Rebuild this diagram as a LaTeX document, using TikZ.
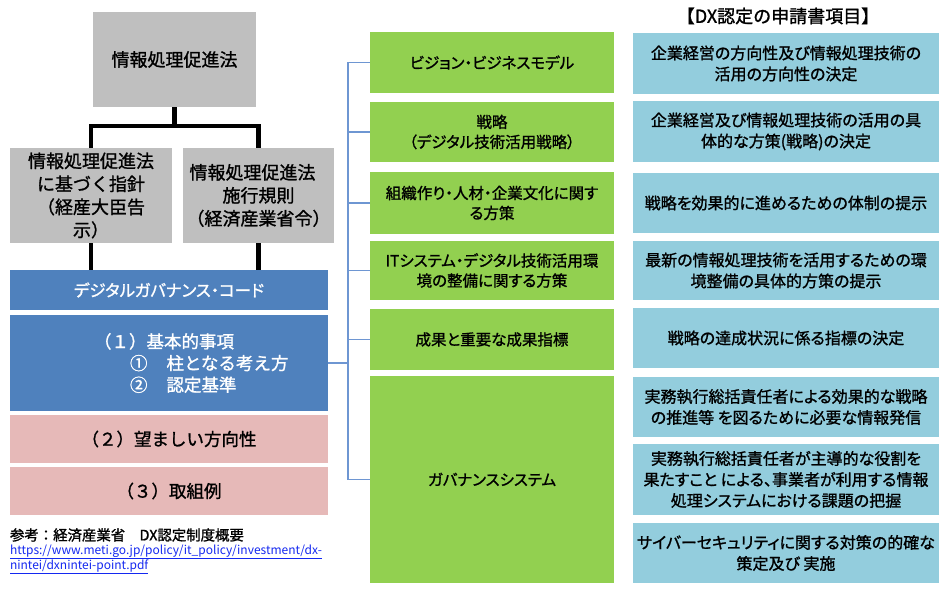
\documentclass[tikz,border=0pt]{standalone}
\usepackage{fontspec}
\setmainfont{Noto Sans CJK JP}[BoldFont={Noto Sans CJK JP}, BoldFeatures={FakeBold=1.2}]
\newfontfamily\pjp{Noto Sans CJK JP}[RawFeature=+palt, BoldFont={Noto Sans CJK JP}, BoldFeatures={FakeBold=1.2}]
\definecolor{grayc}{RGB}{191,191,191}
\definecolor{bluec}{RGB}{79,129,189}
\definecolor{pinkc}{RGB}{230,185,184}
\definecolor{greenc}{RGB}{146,208,80}
\definecolor{lbc}{RGB}{147,205,221}
\definecolor{brc}{RGB}{110,150,210}
\definecolor{linkc}{RGB}{20,40,240}
\begin{document}
\begin{tikzpicture}[x=1pt,y=-1pt,
  box/.style={rectangle, inner sep=0pt, outer sep=0pt, draw=none, align=center},
  graybox/.style={box, fill=grayc, font=\bfseries\fontsize{18}{23}\selectfont},
  bluebox/.style={box, fill=bluec, text=white, font=\bfseries\fontsize{17.5}{21.5}\selectfont},
  pinkbox/.style={box, fill=pinkc, font=\bfseries\fontsize{17.5}{21.5}\selectfont},
  greenbox/.style={box, fill=greenc, minimum width=244pt, font=\pjp\bfseries\fontsize{15.5}{20}\selectfont},
  lbbox/.style={box, fill=lbc, minimum width=306pt, font=\pjp\bfseries\fontsize{16}{21}\selectfont},
  conn/.style={line width=4.3pt, black},
  brk/.style={line width=1.3pt, brc},
  plain/.style={inner sep=0pt, outer sep=0pt, anchor=west, align=left}
]
\useasboundingbox (0,0) rectangle (940,594);
\fill[white] (0,0) rectangle (940,594);

% left column
\node[graybox, minimum width=163pt, minimum height=95pt] (top) at (174.5,59.5) {情報処理促進法};
\node[graybox, minimum width=162pt, minimum height=95pt] (L) at (91,195.5) {情報処理促進法\\に基づく指針\\（経産大臣告\\示）};
\node[graybox, minimum width=151pt, minimum height=95pt] (R) at (258.5,195.5) {情報処理促進法\hspace*{12pt}\\施行規則\hspace*{12pt}\\（経済産業省令）};
\node[bluebox, minimum width=318pt, minimum height=40pt, font=\pjp\bfseries\fontsize{16.5}{20}\selectfont] (dg) at (169,290) {デジタルガバナンス・コード};
\node[bluebox, minimum width=318pt, minimum height=96pt] (b1) at (169,363) {};
\node[plain, text=white, font=\bfseries\fontsize{17.5}{21.7}\selectfont] (b1t) at (94,363) {（１）基本的事項\\\hspace*{36pt}①\hspace{19pt}柱となる考え方\\\hspace*{36pt}②\hspace{19pt}認定基準};
\node[pinkbox, minimum width=318pt, minimum height=48pt] (p2) at (169,439) {（２）望ましい方向性};
\node[pinkbox, minimum width=318pt, minimum height=48pt] (p3) at (169,491) {（３）取組例};

\coordinate (jn) at (174.5,126);
\draw[conn] (top.south) -- (jn);
\draw[conn] (L.north) |- (jn) -| (R.north);
\draw[conn] (L.south) -- (L.south |- dg.north);
\draw[conn] (R.south) -- (R.south |- dg.north);

\node[plain, font=\bfseries\fontsize{14.4}{16}\selectfont] (ref) at (10,535) {参考：経済産業省　DX認定制度概要};
\node[plain, text=linkc, font=\fontsize{12}{14}\selectfont] (link1) at (10,552) {\underline{https://www.meti.go.jp/policy/it\_policy/investment/dx-}};
\node[plain, text=linkc, font=\fontsize{12}{14}\selectfont] (link2) at (10,567) {\underline{nintei/dxnintei-point.pdf}};

% green column
\node[greenbox, minimum height=61pt] (g1) at (492,62.5) {ビジョン・ビジネスモデル};
\node[greenbox, minimum height=60pt] (g2) at (492,132) {戦略\\（デジタル技術活用戦略）};
\node[greenbox, minimum height=62pt] (g3) at (492,203) {組織作り・人材・企業文化に関す\\る方策};
\node[greenbox, minimum height=59pt] (g4) at (492,270.5) {ITシステム・デジタル技術活用環\\境の整備に関する方策};
\node[greenbox, minimum height=61pt] (g5) at (492,339.5) {成果と重要な成果指標};
\node[greenbox, minimum height=207pt] (g6) at (492,479.5) {ガバナンスシステム};

\coordinate (sp) at (348,0);
\draw[brk] (g1.west) -- (g1.west -| sp) -- (g6.west -| sp) -- (g6.west);
\foreach \n in {g2,g3,g4,g5} \draw[brk] (\n.west) -- (\n.west -| sp);
\draw[brk] (b1.east) -- (b1.east -| sp);

% light blue column
\node[font=\bfseries\fontsize{18}{20}\selectfont, inner sep=0pt] (title) at (778,16) {【DX認定の申請書項目】};
\node[lbbox, minimum height=61pt] (c1) at (786,63.5) {企業経営の方向性及び情報処理技術の\\活用の方向性の決定};
\node[lbbox, minimum height=61pt] (c2) at (786,131.5) {企業経営及び情報処理技術の活用の具\\体的な方策(戦略)の決定};
\node[lbbox, minimum height=60pt] (c3) at (786,203) {戦略を効果的に進めるための体制の提示};
\node[lbbox, minimum height=59pt] (c4) at (786,270.5) {最新の情報処理技術を活用するための環\\境整備の具体的方策の提示};
\node[lbbox, minimum height=60pt] (c5) at (786,338) {戦略の達成状況に係る指標の決定};
\node[lbbox, minimum height=60pt] (c6) at (786,407) {実務執行総括責任者による効果的な戦略\\の推進等 を図るために必要な情報発信};
\node[lbbox, minimum height=71pt] (c7) at (786,479.5) {実務執行総括責任者が主導的な役割を\\果たすこと による、事業者が利用する情報\\処理システムにおける課題の把握};
\node[lbbox, minimum height=60pt] (c8) at (786,553) {サイバーセキュリティに関する対策の的確な\\策定及び 実施};
\end{tikzpicture}
\end{document}
